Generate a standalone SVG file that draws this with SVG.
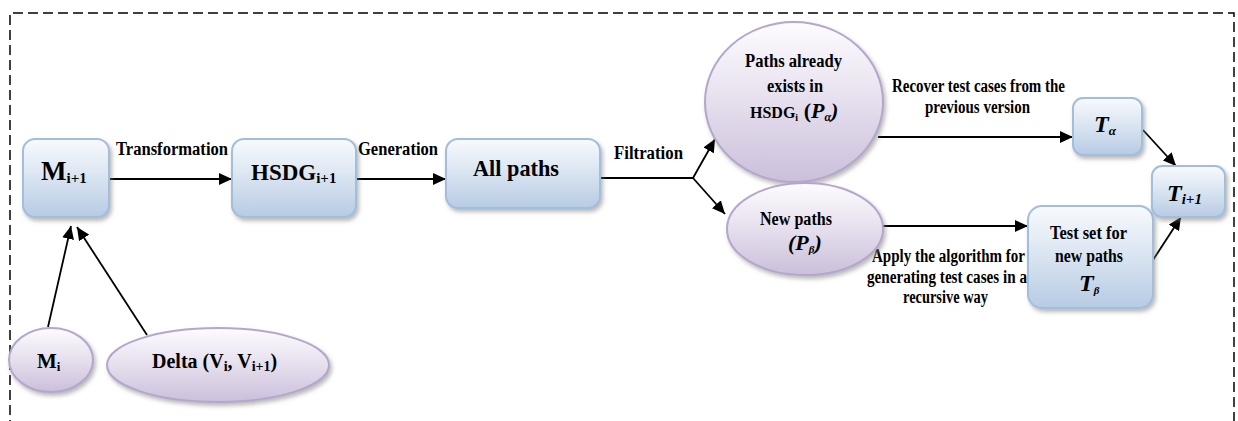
<svg xmlns="http://www.w3.org/2000/svg" width="1238" height="421" viewBox="0 0 1238 421">
  <defs>
    <linearGradient id="boxFill" x1="0" y1="0" x2="0" y2="1">
      <stop offset="0" stop-color="#f8fafd"/>
      <stop offset="0.45" stop-color="#dce6f2"/>
      <stop offset="1" stop-color="#b7cbe4"/>
    </linearGradient>
    <linearGradient id="ovalFill" x1="0" y1="0" x2="0" y2="1">
      <stop offset="0" stop-color="#fdfcfe"/>
      <stop offset="0.45" stop-color="#e8e2ef"/>
      <stop offset="1" stop-color="#cbbfdb"/>
    </linearGradient>
    <filter id="shade" x="-20%" y="-20%" width="150%" height="150%">
      <feDropShadow dx="2" dy="3" stdDeviation="2" flood-color="#7f7f7f" flood-opacity="0.55"/>
    </filter>
    <marker id="arrow" markerUnits="userSpaceOnUse" markerWidth="14" markerHeight="12" refX="13" refY="6" orient="auto">
      <path d="M0,0 L13,6 L0,12 z" fill="#000"/>
    </marker>
  </defs>
  <style>
    .box { fill: url(#boxFill); stroke: #a3bddc; stroke-width: 2; filter: url(#shade); }
    .oval { fill: url(#ovalFill); stroke: #b5a7cb; stroke-width: 2; filter: url(#shade); }
    .link { fill: none; stroke: #000; stroke-width: 1.8; }
    .frame { fill: none; stroke: #000; stroke-width: 1.5; stroke-dasharray: 10 5; }
    text { font-family: "Liberation Serif", "Times New Roman", serif; font-weight: bold; fill: #000; }
    .lbl { font-size: 18px; }
    .it { font-style: italic; }
  </style>

  <!-- dashed boundary of the process -->
  <path class="frame" d="M10,430 V13 H1234 V430"/>

  <!-- connectors -->
  <g id="connectors">
    <path class="link" d="M109,179 H232" marker-end="url(#arrow)"/>
    <path class="link" d="M356,179 H446" marker-end="url(#arrow)"/>
    <path class="link" d="M600,178 H693"/>
    <path class="link" d="M693,178 L715,139" marker-end="url(#arrow)"/>
    <path class="link" d="M693,178 L725,214" marker-end="url(#arrow)"/>
    <path class="link" d="M878,137 H1073" marker-end="url(#arrow)"/>
    <path class="link" d="M882,226 H1028" marker-end="url(#arrow)"/>
    <path class="link" d="M1143,130 L1176,166" marker-end="url(#arrow)"/>
    <path class="link" d="M1153,260 L1181,217" marker-end="url(#arrow)"/>
    <path class="link" d="M48,327 L71,226" marker-end="url(#arrow)"/>
    <path class="link" d="M147,335 L77,227" marker-end="url(#arrow)"/>

    <text class="lbl" x="116" y="155" textLength="112" lengthAdjust="spacingAndGlyphs">Transformation</text>
    <text class="lbl" x="358" y="155" textLength="80" lengthAdjust="spacingAndGlyphs">Generation</text>
    <text class="lbl" x="614" y="159" textLength="69" lengthAdjust="spacingAndGlyphs">Filtration</text>
    <text class="lbl" x="892" y="92" textLength="173" lengthAdjust="spacingAndGlyphs">Recover test cases from the</text>
    <text class="lbl" x="925" y="113" textLength="105" lengthAdjust="spacingAndGlyphs">previous version</text>
    <text class="lbl" x="872" y="262" textLength="153" lengthAdjust="spacingAndGlyphs">Apply the algorithm for</text>
    <text class="lbl" x="867" y="283" textLength="160" lengthAdjust="spacingAndGlyphs">generating test cases in a</text>
    <text class="lbl" x="903" y="303" textLength="85" lengthAdjust="spacingAndGlyphs">recursive way</text>
  </g>

  <!-- model of the new version -->
  <g id="node-m-next">
    <rect class="box" x="23" y="139" width="86" height="78" rx="12"/>
    <text x="41" y="180" font-size="27">M<tspan font-size="15" dy="3">i+1</tspan></text>
  </g>

  <g id="node-hsdg-next">
    <rect class="box" x="232" y="139" width="124" height="78" rx="12"/>
    <text x="251" y="180" font-size="23">HSDG<tspan font-size="15" dy="3">i+1</tspan></text>
  </g>

  <g id="node-all-paths">
    <rect class="box" x="446" y="139" width="154" height="69" rx="12"/>
    <text x="473" y="176" font-size="24" textLength="86" lengthAdjust="spacingAndGlyphs">All paths</text>
  </g>

  <g id="node-existing-paths">
    <ellipse class="oval" cx="794" cy="102" rx="89" ry="80"/>
    <text class="lbl" x="745" y="67" textLength="97" lengthAdjust="spacingAndGlyphs">Paths already</text>
    <text class="lbl" x="767" y="92" textLength="56" lengthAdjust="spacingAndGlyphs">exists in</text>
    <text x="750" y="118" font-size="16">HSDG<tspan font-size="10" dy="3">i</tspan><tspan font-size="22" dy="-3"> (</tspan><tspan class="it" font-size="22">P</tspan><tspan class="it" font-size="12" dy="3">α</tspan><tspan class="it" font-size="22" dy="-3">)</tspan></text>
  </g>

  <g id="node-new-paths">
    <ellipse class="oval" cx="805" cy="229" rx="78" ry="46"/>
    <text class="lbl" x="760" y="225" textLength="72" lengthAdjust="spacingAndGlyphs">New paths</text>
    <text class="it" x="788" y="250" font-size="22">(P<tspan font-size="11" dy="3">β</tspan><tspan dy="-3">)</tspan></text>
  </g>

  <g id="node-t-alpha">
    <rect class="box" x="1073" y="98" width="69" height="57" rx="10"/>
    <text class="it" x="1094" y="132" font-size="24">T<tspan font-size="13" dy="3">α</tspan></text>
  </g>

  <g id="node-t-beta">
    <rect class="box" x="1028" y="206" width="125" height="102" rx="14"/>
    <text class="lbl" x="1050" y="239" textLength="77" lengthAdjust="spacingAndGlyphs">Test set for</text>
    <text class="lbl" x="1055" y="262" textLength="68" lengthAdjust="spacingAndGlyphs">new paths</text>
    <text class="it" x="1079" y="291" font-size="24">T<tspan font-size="11" dy="3">β</tspan></text>
  </g>

  <g id="node-t-next">
    <rect class="box" x="1152" y="166" width="73" height="51" rx="10"/>
    <text class="it" x="1167" y="201" font-size="24">T<tspan font-size="15" dy="3">i+1</tspan></text>
  </g>

  <!-- inputs of the transformation -->
  <g id="node-m-prev">
    <ellipse class="oval" cx="51" cy="360" rx="42" ry="32"/>
    <text x="37" y="368" font-size="21">M<tspan font-size="13" dy="3">i</tspan></text>
  </g>

  <g id="node-delta">
    <ellipse class="oval" cx="218" cy="365" rx="111" ry="37"/>
    <text x="152" y="368" font-size="20">Delta (V<tspan font-size="14" dy="3">i</tspan><tspan dy="-3">, V</tspan><tspan font-size="14" dy="3">i+1</tspan><tspan dy="-3">)</tspan></text>
  </g>
</svg>
